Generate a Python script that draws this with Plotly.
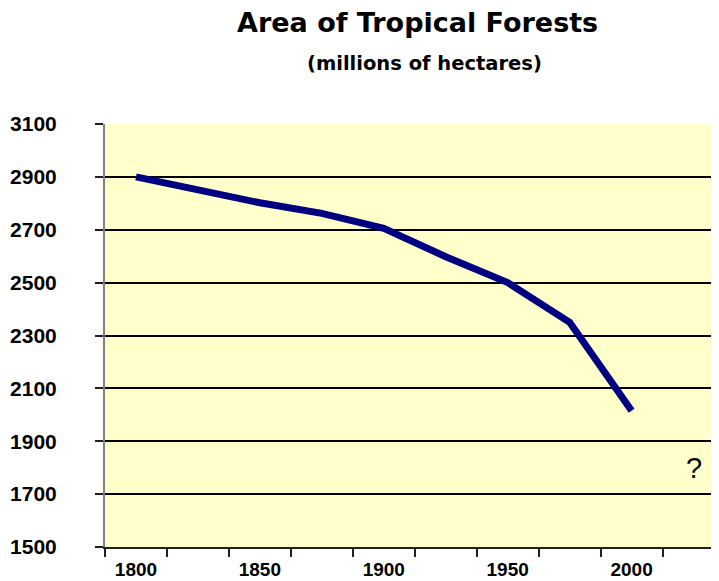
import plotly.graph_objects as go

years = [1800, 1825, 1850, 1875, 1900, 1925, 1950, 1975, 2000]
area = [2900, 2853, 2802, 2762, 2705, 2598, 2500, 2350, 2015]

tick_years = [1800, 1850, 1900, 1950, 2000]
tick_labels = ["1800", "1850", "1900", "1950", "2000"]
boundary_years = [1787.5 + 25 * i for i in range(11)]
y_ticks = [1500, 1700, 1900, 2100, 2300, 2500, 2700, 2900, 3100]

unknown_year = 2025
unknown_value = 1800

FONT = "Liberation Sans, Arial, sans-serif"
TFONT = "DejaVu Sans, Verdana, sans-serif"

fig = go.Figure()
fig.add_trace(go.Scatter(
    x=years, y=area, mode="lines",
    line=dict(color="#000080", width=7),
    hoverinfo="skip", showlegend=False,
))

fig.add_annotation(x=unknown_year, y=unknown_value, text="?", showarrow=False,
                   font=dict(family=FONT, size=29, color="black"))

fig.add_annotation(xref="paper", yref="paper", x=0.502, y=1, yanchor="middle",
                   yshift=102, text="<b>Area of Tropical Forests</b>", showarrow=False,
                   font=dict(family=TFONT, size=27, color="black"))
fig.add_annotation(xref="paper", yref="paper", x=0.514, y=1, yanchor="middle",
                   yshift=61, text="<b>(millions of hectares)</b>", showarrow=False,
                   font=dict(family=TFONT, size=19.5, color="black"))

fig.update_layout(
    width=719, height=581,
    margin=dict(l=97, r=0, t=116, b=42),
    paper_bgcolor="white",
    plot_bgcolor="#FFFFCC",
    font=dict(family=FONT, color="black"),
)
fig.update_xaxes(
    range=[1787.5, 2038.5], showgrid=False, zeroline=False, automargin=False,
    tickmode="array", tickvals=tick_years, ticktext=tick_labels,
    ticks="", ticklabelstandoff=4,
    tickfont=dict(family=FONT, size=19, color="black", weight="bold"),
    showline=True, linecolor="#202020", linewidth=2,
    minor=dict(tickmode="array", tickvals=boundary_years, ticks="outside",
               ticklen=8, tickwidth=2, tickcolor="#202020", showgrid=False),
)
fig.update_yaxes(
    range=[1500, 3100], tickmode="array", tickvals=y_ticks, automargin=False,
    showgrid=True, gridcolor="black", gridwidth=1.5, zeroline=False,
    ticks="outside", ticklen=8, tickwidth=2, tickcolor="#202020",
    ticklabelstandoff=34,
    tickfont=dict(family=FONT, size=21, color="black", weight="bold"),
    showline=True, linecolor="#808080", linewidth=2,
)

fig.write_html("out.html")
